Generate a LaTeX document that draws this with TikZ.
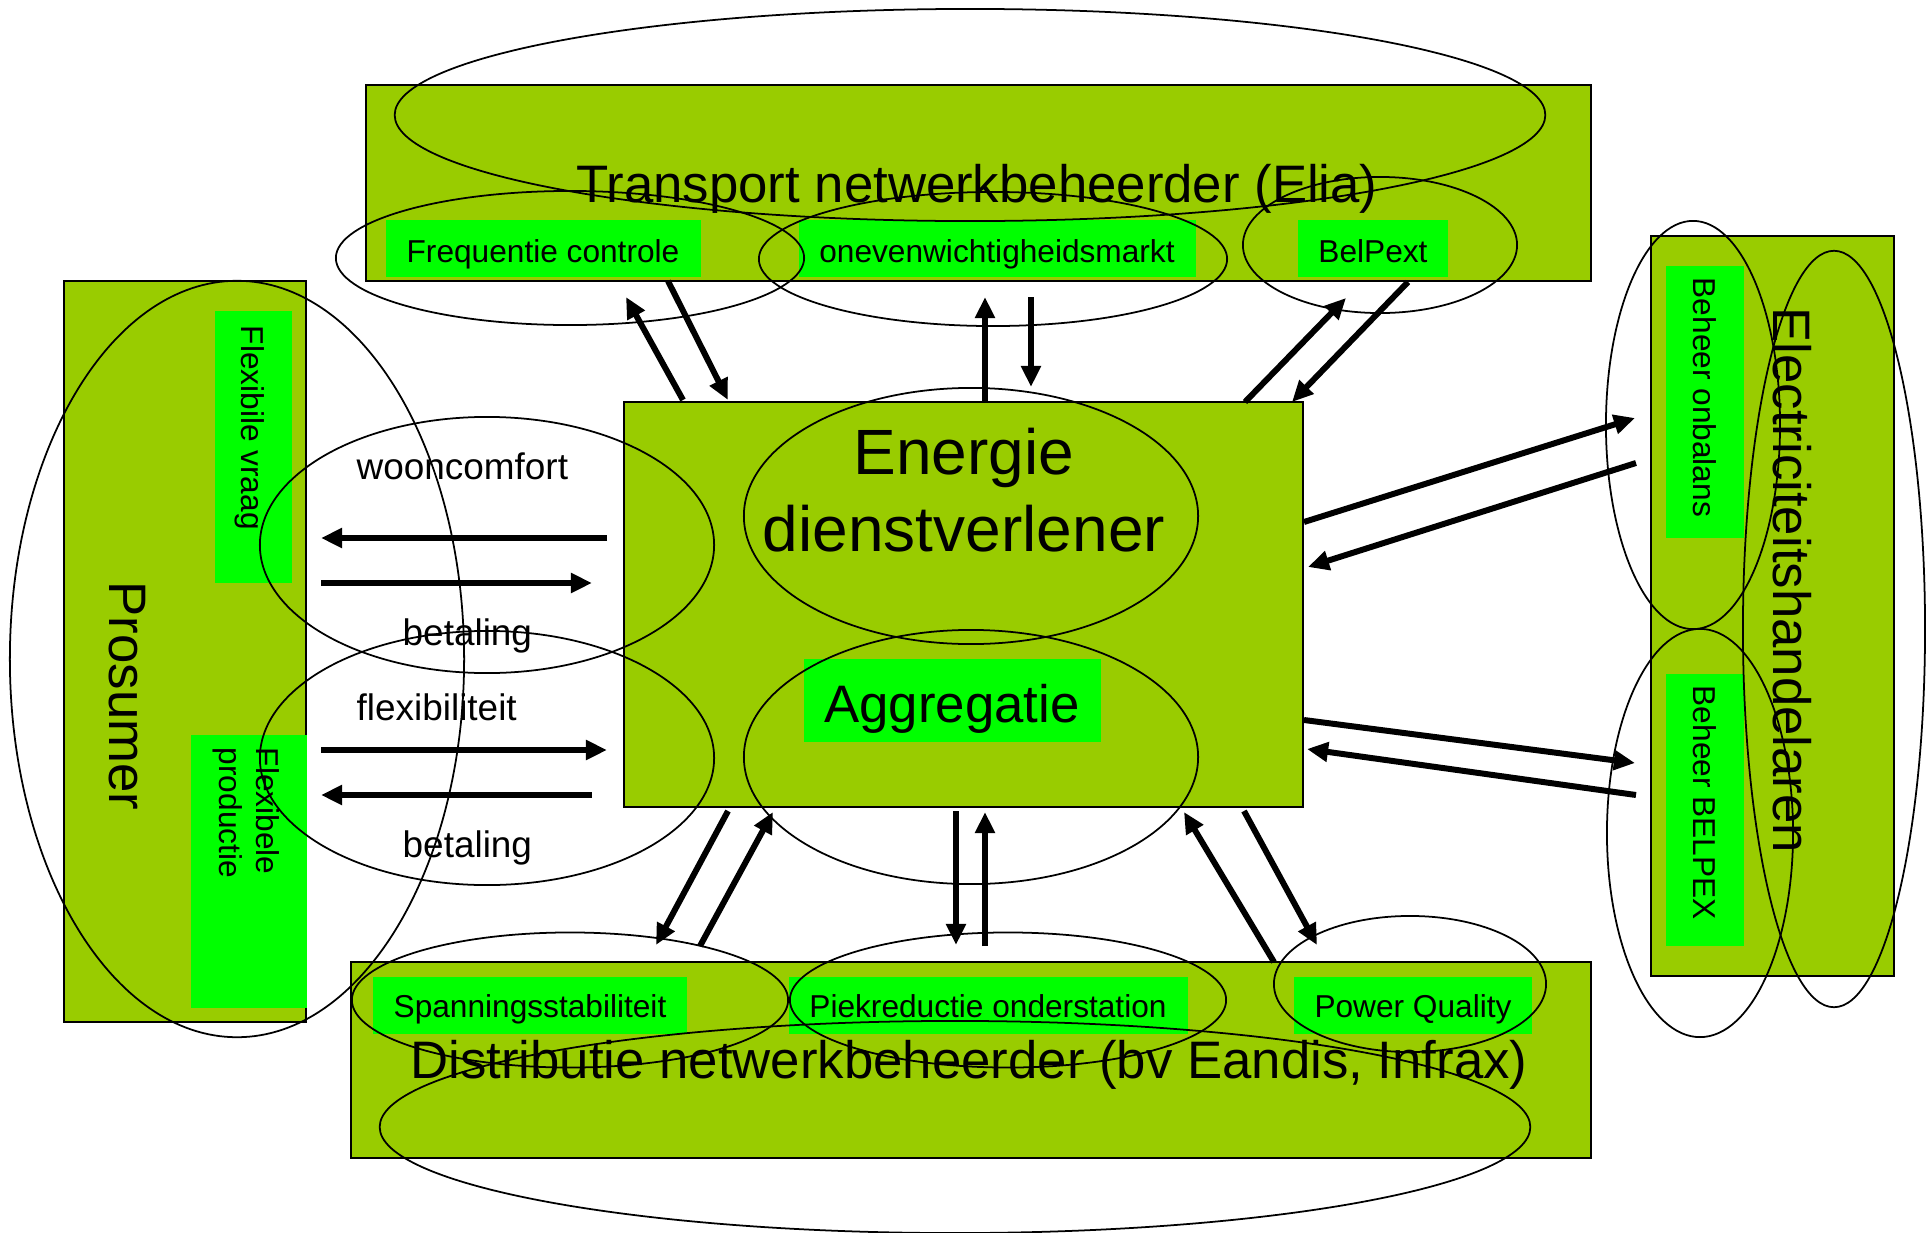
\documentclass[tikz,border=0pt]{standalone}
\usepackage{fontspec}
\setmainfont{Liberation Sans}
\usetikzlibrary{shapes.geometric,fit,arrows.meta}
\definecolor{oliveg}{HTML}{99CC00}
\definecolor{limeg}{HTML}{00FF00}
\begin{document}
\begin{tikzpicture}[x=0.01cm,y=-0.01cm,
  obox/.style={draw=black, line width=0.7pt, fill=oliveg, inner sep=0pt, outer sep=0pt},
  gbox/.style={fill=limeg, inner sep=0pt, outer sep=0pt},
  ell/.style={ellipse, draw=black, line width=0.5pt, inner sep=0pt, outer sep=0pt},
  arr/.style={-{Triangle[length=6pt,width=5.4pt]}, line width=1.7pt},
  bigtxt/.style={font=\fontsize{15}{18}\selectfont, inner sep=0pt},
  hugetxt/.style={font=\fontsize{18.2}{21.9}\selectfont, inner sep=0pt, align=center},
  midtxt/.style={font=\fontsize{10.5}{12.6}\selectfont, inner sep=0pt},
  smalltxt/.style={font=\fontsize{9}{10.5}\selectfont, inner sep=0pt}]
\useasboundingbox (0,0) rectangle (1926,1233);
% main boxes
\node[obox, fit={(366,85) (1591,281)}] (tso) {};
\node[obox, fit={(624,402) (1303,807)}] (eds) {};
\node[obox, fit={(64,281) (306,1022)}] (pros) {};
\node[obox, fit={(351,962) (1591,1158)}] (dso) {};
\node[obox, fit={(1651,236) (1894,976)}] (ehand) {};
% green boxes
\node[gbox, fit={(386,220) (701,277)}] (gFreq) {};
\node[gbox, fit={(799,220) (1196,277)}] (gOnev) {};
\node[gbox, fit={(1298,220) (1448,277)}] (gBelp) {};
\node[gbox, fit={(804,659) (1101,742)}] (gAggr) {};
\node[gbox, fit={(215,311) (292,583)}] (gVraag) {};
\node[gbox, fit={(191,735) (307,1008)}] (gProd) {};
\node[gbox, fit={(373,977) (687,1034)}] (gSpan) {};
\node[gbox, fit={(789,977) (1188,1034)}] (gPiek) {};
\node[gbox, fit={(1294,977) (1532,1034)}] (gPQ) {};
\node[gbox, fit={(1666,266) (1744,538)}] (gOnbal) {};
\node[gbox, fit={(1666,674) (1744,946)}] (gBelpex) {};
% texts
\node[bigtxt, anchor=base] (tTso) at (977,202) {Transport netwerkbeheerder (Elia)};
\node[bigtxt, anchor=base] (tDso) at (969,1078) {Distributie netwerkbeheerder (bv Eandis, Infrax)};
\node[hugetxt] (tEds) at (964,490) {Energie\\dienstverlener};
\node[bigtxt, anchor=base] (tAggr) at (952,722) {Aggregatie};
\node[smalltxt, anchor=base] (tFreq) at (543,262) {Frequentie controle};
\node[smalltxt, anchor=base] (tOnev) at (997,262) {onevenwichtigheidsmarkt};
\node[smalltxt, anchor=base] (tBelp) at (1373,262) {BelPext};
\node[smalltxt, anchor=base] (tSpan) at (530,1017) {Spanningsstabiliteit};
\node[smalltxt, anchor=base] (tPiek) at (988,1017) {Piekreductie onderstation};
\node[smalltxt, anchor=base] (tPQ) at (1413,1017) {Power Quality};
\node[smalltxt, rotate=-90, anchor=base west] (tVraag) at (241,325) {Flexibile vraag};
\node[smalltxt, rotate=-90, anchor=north west, align=left] (tProd) at (280,747) {Flexibele\\productie};
\node[smalltxt, rotate=-90, anchor=base west] (tOnbal) at (1693,277) {Beheer onbalans};
\node[smalltxt, rotate=-90, anchor=base west] (tBelpex) at (1693,685) {Beheer BELPEX};
\node[bigtxt, rotate=-90, anchor=base west] (tPros) at (110,581) {Prosumer};
\node[bigtxt, rotate=-90, anchor=base west] (tEhand) at (1773,307) {Electriciteitshandelaren};
\node[midtxt, anchor=base west] (lWoon) at (356,479) {wooncomfort};
\node[midtxt, anchor=base west] (lBet1) at (402,645) {betaling};
\node[midtxt, anchor=base west] (lFlex) at (356,720) {flexibiliteit};
\node[midtxt, anchor=base west] (lBet2) at (402,857) {betaling};
% ellipses
\node[ell, minimum width=11.5cm, minimum height=2.12cm] (eTso) at (970,115) {};
\node[ell, minimum width=4.68cm, minimum height=1.34cm] (eFreq) at (570,258) {};
\node[ell, minimum width=4.68cm, minimum height=1.34cm] (eOnev) at (993,259) {};
\node[ell, minimum width=2.74cm, minimum height=1.36cm] (eBelp) at (1380,245) {};
\node[ell, minimum width=4.54cm, minimum height=2.56cm] (eEds) at (971,516) {};
\node[ell, minimum width=4.54cm, minimum height=2.54cm] (eAggr) at (971,757) {};
\node[ell, minimum width=4.54cm, minimum height=7.56cm] (ePros) at (237,659) {};
\node[ell, minimum width=4.54cm, minimum height=2.56cm] (eWoon) at (487,545) {};
\node[ell, minimum width=4.54cm, minimum height=2.54cm] (eFlex) at (487,758) {};
\node[ell, minimum width=11.5cm, minimum height=2.12cm] (eDso) at (955,1127) {};
\node[ell, minimum width=4.36cm, minimum height=1.35cm] (eSpan) at (570,1000) {};
\node[ell, minimum width=4.36cm, minimum height=1.35cm] (ePiek) at (1008,1000) {};
\node[ell, minimum width=2.72cm, minimum height=1.36cm] (ePQ) at (1410,984) {};
\node[ell, minimum width=1.74cm, minimum height=4.08cm] (eOnbal) at (1693,425) {};
\node[ell, minimum width=1.86cm, minimum height=4.08cm] (eBelpex) at (1700,833) {};
\node[ell, minimum width=1.82cm, minimum height=7.56cm] (eEhand) at (1834,629) {};
% arrow end points
\foreach \n/\x/\y in {
  a1s/683/400, a1t/626/297, a2s/668/281, a2t/728/400,
  a3s/985/402, a3t/985/297, a4s/1031/297, a4t/1031/387,
  a5s/1245/402, a5t/1346/298, a6s/1408/282, a6t/1292/402,
  a7s/607/538, a7t/321/538, a8s/321/583, a8t/592/583,
  a9s/321/750, a9t/607/750, a10s/592/795, a10t/321/795,
  a11s/1304/522, a11t/1635/418, a12s/1636/463, a12t/1308/567,
  a13s/1304/720, a13t/1635/763, a14s/1636/795, a14t/1307/749,
  a15s/728/811, a15t/656/945, a16s/700/946, a16t/773/812,
  a17s/956/811, a17t/956/945, a18s/985/946, a18t/985/812,
  a19s/1274/962, a19t/1184/812, a20s/1244/811, a20t/1317/945}
  \coordinate (\n) at (\x,\y);
\foreach \i in {1,...,20}
  \draw[arr] (a\i s) -- (a\i t);
\end{tikzpicture}
\end{document}
